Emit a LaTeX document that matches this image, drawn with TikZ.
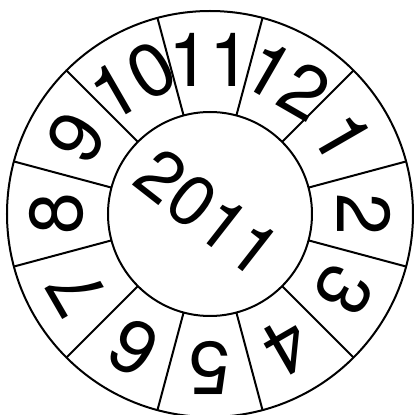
\documentclass[tikz,border=0pt]{standalone}
\usepackage{fontspec}
\setmainfont{TeX Gyre Heros}
\begin{document}
\begin{tikzpicture}[
  x=1pt, y=1pt,
  rim/.style={line width=2pt},
  month/.style={font=\fontsize{75}{75}\selectfont, inner sep=0pt},
  yearlbl/.style={font=\fontsize{71}{71}\selectfont, inner sep=0pt}]
  \useasboundingbox (-210,-201) rectangle (206,214);
  \draw[rim] (0,0) circle (203);
  \draw[rim] (0,0) circle (102);
  \foreach \a in {15,45,...,345} {\draw[rim] (\a:102) -- (\a:203);}
  \foreach \m [count=\i from 0] in {2,1,12,11,10,9,8,7,6,5,4,3}
    {\node[month, rotate=\i*30-90] (m\m) at (\i*30:154) {\m};}
  \node[yearlbl, rotate=-38] (year) at (-2,1) {2011};
\end{tikzpicture}
\end{document}
